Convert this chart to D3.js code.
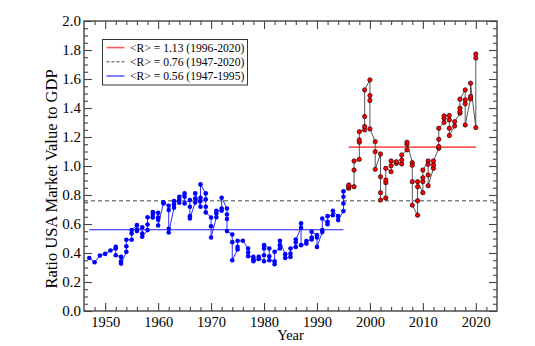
<!DOCTYPE html>
<html><head><meta charset="utf-8">
<script src="https://cdn.jsdelivr.net/npm/d3@7"></script>
<style>
body{margin:0;background:#fff;}
svg text{font-family:"Liberation Serif","Times New Roman","DejaVu Serif",serif !important;fill:#000;}
</style></head>
<body><svg id="c" width="535" height="346"></svg>
<script>
// ---- data (quarterly ratios plotted at the year) ----
const blueYears = [1947,1948,1949,1950,1951,1952,1953,1954,1955,1956,1957,1958,1959,1960,1961,1962,1963,1964,1965,1966,1967,1968,1969,1970,1971,1972,1973,1974,1975,1976,1977,1978,1979,1980,1981,1982,1983,1984,1985,1986,1987,1988,1989,1990,1991,1992,1993,1994,1995];
const blueValues = [
 [0.366],[0.336],[0.382],[0.394],[0.417],[0.431,0.442,0.385],[0.373,0.343,0.327],[0.408,0.447,0.491],
 [0.491,0.535,0.558],[0.592,0.562,0.551],[0.578,0.535,0.512],[0.558,0.597,0.647],[0.645,0.666,0.682],
 [0.677,0.645,0.629,0.590],[0.742,0.749],[0.726,0.696,0.567,0.541],[0.712,0.735,0.758],[0.747,0.765,0.788],
 [0.811,0.788,0.742],[0.765,0.719,0.654,0.638],[0.749,0.776,0.811],[0.719,0.758,0.781,0.873],[0.811,0.770,0.719,0.680],
 [0.645,0.585,0.507],[0.647,0.673,0.691],[0.691,0.707,0.781],[0.707,0.666,0.634,0.551],[0.528,0.475,0.350],
 [0.424,0.442,0.484],[0.484],[0.431,0.403,0.378],[0.373,0.357,0.343],[0.359,0.373],[0.343,0.385,0.431,0.454],
 [0.431,0.378,0.350],[0.343,0.323,0.408],[0.431,0.454,0.484],[0.392,0.366],[0.373,0.396,0.431],
 [0.442,0.475,0.493],[0.574,0.604,0.454],[0.465,0.482],[0.493,0.507,0.546],[0.523,0.507,0.442],
 [0.544,0.558,0.638],[0.599,0.615,0.654],[0.661,0.691],[0.654,0.627],[0.689,0.742,0.788,0.825]
];
const redYears = [1996,1997,1998,1999,2000,2001,2002,2003,2004,2005,2006,2007,2008,2009,2010,2011,2012,2013,2014,2015,2016,2017,2018,2019,2020];
const redValues = [
 [0.846,0.857,0.869],[0.857,0.972,1.035],[1.046,1.164,1.180,1.237],[1.249,1.272,1.341,1.525],
 [1.594,1.486,1.452,1.256],[1.168,1.099,0.977],[1.083,0.926,0.816,0.765],[0.779,0.885,0.903,0.984],
 [0.961,1.002,1.035],[1.018,1.030],[1.014,1.041,1.076],[1.111,1.150,1.164],[1.023,1.005,0.892,0.730],
 [0.661,0.760,0.857,0.892],[0.816,0.892,0.919,0.972],[1.035,1.012,0.938,0.864],[0.984,1.007,1.035],
 [1.122,1.134,1.184,1.260],[1.300,1.329,1.346],[1.348,1.318,1.260,1.210],[1.276,1.306],
 [1.364,1.376,1.399,1.461],[1.525,1.456,1.429,1.283],[1.463,1.479,1.571],[1.265,1.744,1.772]
];
const meanLines = [
 {label:"<R> = 1.13 (1996-2020)", value:1.13, from:1996, to:2020},
 {label:"<R> = 0.76 (1947-2020)", value:0.76, from:1946, to:2024},
 {label:"<R> = 0.56 (1947-1995)", value:0.56, from:1947, to:1995}
];
const xTicks = [1950,1960,1970,1980,1990,2000,2010,2020];
const yTicks = [0,0.2,0.4,0.6,0.8,1.0,1.2,1.4,1.6,1.8,2.0];

// ---- layout ----
const FONT = '"Liberation Serif","Times New Roman","DejaVu Serif",serif';
const L=84,R=497,T=21,B=311;
const svg = d3.select("#c").style("font-family",FONT);
const x = d3.scaleLinear().domain([1946,2024]).range([L,R]);
const y = d3.scaleLinear().domain([0,2]).range([B,T]);

const flat = (ys,vs)=>ys.flatMap((yr,i)=>vs[i].map(v=>({yr,v})));
const bluePts = flat(blueYears,blueValues);
const redPts = flat(redYears,redValues);

const meanStyles = [
 {stroke:"#ff5a5a", width:1.6, dash:null},
 {stroke:"#808080", width:1.4, dash:"4,3"},
 {stroke:"#1a1aff", width:1.1, dash:null}
];

meanLines.forEach((m,i)=>{
  svg.append("line").attr("x1",x(m.from)).attr("x2",x(m.to))
    .attr("y1",y(m.value)).attr("y2",y(m.value))
    .attr("stroke",meanStyles[i].stroke).attr("stroke-width",meanStyles[i].width)
    .attr("stroke-dasharray",meanStyles[i].dash);
});

const line = d3.line().x(d=>x(d.yr)).y(d=>y(d.v));
svg.append("path").datum([bluePts[bluePts.length-1], redPts[0]]).attr("d",line)
  .attr("fill","none").attr("stroke","#555").attr("stroke-width",0.9);
svg.append("path").datum(bluePts).attr("d",line).attr("fill","none")
  .attr("stroke","#2a2aff").attr("stroke-width",1);
svg.append("path").datum(redPts).attr("d",line).attr("fill","none")
  .attr("stroke","#444").attr("stroke-width",0.9);

svg.append("g").selectAll("circle").data(bluePts).join("circle")
  .attr("cx",d=>x(d.yr)).attr("cy",d=>y(d.v)).attr("r",2.3).attr("fill","#0000ff");
svg.append("g").selectAll("circle").data(redPts).join("circle")
  .attr("cx",d=>x(d.yr)).attr("cy",d=>y(d.v)).attr("r",2.2).attr("fill","#ff0000")
  .attr("stroke","#000").attr("stroke-width",0.6);

const minorX = d3.range(1948,2024,2).filter(v=>v%10!==0);
const minorY = d3.range(0,2.001,0.05).map(v=>+v.toFixed(2)).filter(v=>Math.abs(v*5-Math.round(v*5))>1e-6);
function styleAxis(g){
  g.attr("font-family",FONT);
  g.select(".domain").remove();
  g.selectAll("line").attr("stroke","#444").attr("stroke-width",1.1);
  g.selectAll("text").style("font-family",FONT).attr("fill","#000");
}
const bx = svg.append("g").attr("transform",`translate(0,${B})`)
  .call(d3.axisBottom(x).tickValues(xTicks).tickSize(-8).tickPadding(6).tickFormat(d3.format("d")));
bx.call(styleAxis); bx.selectAll("text").attr("font-size",14.5);
svg.append("g").attr("transform",`translate(0,${B})`).call(d3.axisBottom(x).tickValues(minorX).tickSize(-4).tickFormat("")).call(styleAxis);
svg.append("g").attr("transform",`translate(0,${T})`).call(d3.axisTop(x).tickValues(xTicks).tickSize(-8).tickFormat("")).call(styleAxis);
svg.append("g").attr("transform",`translate(0,${T})`).call(d3.axisTop(x).tickValues(minorX).tickSize(-4).tickFormat("")).call(styleAxis);
const ly = svg.append("g").attr("transform",`translate(${L},0)`)
  .call(d3.axisLeft(y).tickValues(yTicks).tickSize(-8).tickPadding(3).tickFormat(d3.format(".1f")));
ly.call(styleAxis); ly.selectAll("text").attr("font-size",15);
svg.append("g").attr("transform",`translate(${L},0)`).call(d3.axisLeft(y).tickValues(minorY).tickSize(-4).tickFormat("")).call(styleAxis);
svg.append("g").attr("transform",`translate(${R},0)`).call(d3.axisRight(y).tickValues(yTicks).tickSize(-8).tickFormat("")).call(styleAxis);
svg.append("g").attr("transform",`translate(${R},0)`).call(d3.axisRight(y).tickValues(minorY).tickSize(-4).tickFormat("")).call(styleAxis);

svg.append("rect").attr("x",L).attr("y",T).attr("width",R-L).attr("height",B-T)
  .attr("fill","none").attr("stroke","#444").attr("stroke-width",1.4);

svg.append("text").attr("x",(L+R)/2).attr("y",340).attr("text-anchor","middle").attr("font-size",14.5)
  .style("font-family",FONT).text("Year");
svg.append("text").attr("transform","translate(57,179) rotate(-90)").attr("text-anchor","middle").attr("font-size",16.5)
  .style("font-family",FONT).text("Ratio USA Market Value to GDP");

const lg = svg.append("g");
lg.append("rect").attr("x",102.5).attr("y",39.5).attr("width",145).attr("height",45.5)
  .attr("fill","#fff").attr("stroke","#333").attr("stroke-width",1);
meanLines.forEach((m,i)=>{
  const yy = 47.6 + i*14.2;
  lg.append("line").attr("x1",106.5).attr("x2",124.5).attr("y1",yy).attr("y2",yy)
    .attr("stroke",meanStyles[i].stroke).attr("stroke-width",meanStyles[i].width)
    .attr("stroke-dasharray",meanStyles[i].dash?"3,2":null);
  lg.append("text").attr("x",130).attr("y",yy).attr("dy","0.35em").attr("font-size",11.6)
    .style("font-family",FONT).text(m.label);
});
</script></body></html>
